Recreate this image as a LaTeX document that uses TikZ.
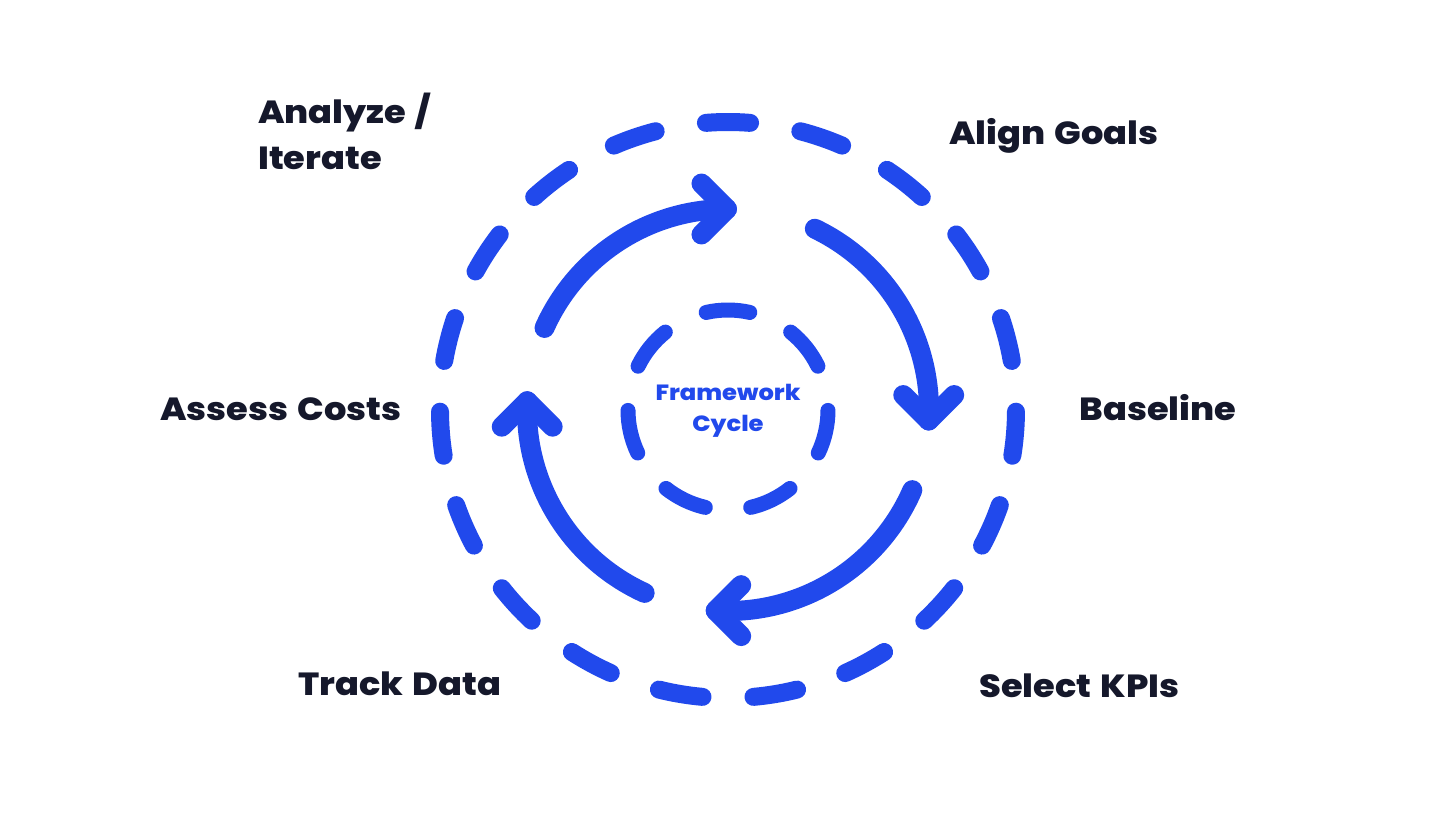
\documentclass[tikz,border=0pt]{standalone}
\usepackage{fontspec}
\setmainfont{Poppins}[BoldFont={Poppins ExtraBold},BoldFeatures={FakeStretch=1.1,WordSpace=1.4}]
\usetikzlibrary{calc}
\definecolor{cycblue}{HTML}{2149EC}
\definecolor{labnavy}{HTML}{15182B}
\begin{document}
\begin{tikzpicture}[x=1pt,y=1pt,
  outerdash/.style={draw=cycblue,line width=18pt,line cap=round},
  innerdash/.style={draw=cycblue,line width=15pt,line cap=round},
  arrowline/.style={draw=cycblue,line width=20pt,line cap=round,line join=round},
  lab/.style={text=labnavy,font=\fontsize{32}{46}\selectfont\bfseries,inner sep=0pt},
  centerlab/.style={text=cycblue,font=\fontsize{22}{31}\selectfont\bfseries,inner sep=0pt,align=center}]
\useasboundingbox[fill=white] (-728,-409) rectangle (728,410);
% outer dashed ring
\foreach \k in {0,...,18}{
  \pgfmathsetmacro\a{90+\k*360/19}
  \draw[outerdash] (\a-4.4:288) arc[start angle=\a-4.4,end angle=\a+4.4,radius=288];
}
% inner dashed ring
\foreach \k in {0,...,6}{
  \pgfmathsetmacro\a{90+\k*360/7}
  \draw[innerdash] (\a-12.6:100) arc[start angle=\a-12.6,end angle=\a+12.6,radius=100];
}
% cycle arrows
\foreach \s/\e/\h [count=\k] in {155.9/90.3/0, 64.4/-3/-90, -23.5/-93.5/-180, -114.5/-182.5/-270}{
  \coordinate (v\k) at (\e:201);
  \draw[arrowline] (\s:201) arc[start angle=\s,end angle=\e,radius=201];
  \draw[arrowline] ($(v\k)+(\h+135:36)$) -- (v\k) -- ($(v\k)+(\h-135:36)$);
}
% labels
\node[centerlab] (center) at (0,-1) {Framework\\Cycle};
\node[lab,anchor=north west,align=left] (analyze) at (-470,317) {Analyze /\\Iterate};
\node[lab,anchor=base] (align) at (326,265) {Align Goals};
\node[lab,anchor=base] (baseline) at (430,-10) {Baseline};
\node[lab,anchor=base] (select) at (351.5,-287) {Select KPIs};
\node[lab,anchor=base] (track) at (-328,-285) {Track Data};
\node[lab,anchor=base] (assess) at (-447,-10) {Assess Costs};
\end{tikzpicture}
\end{document}
